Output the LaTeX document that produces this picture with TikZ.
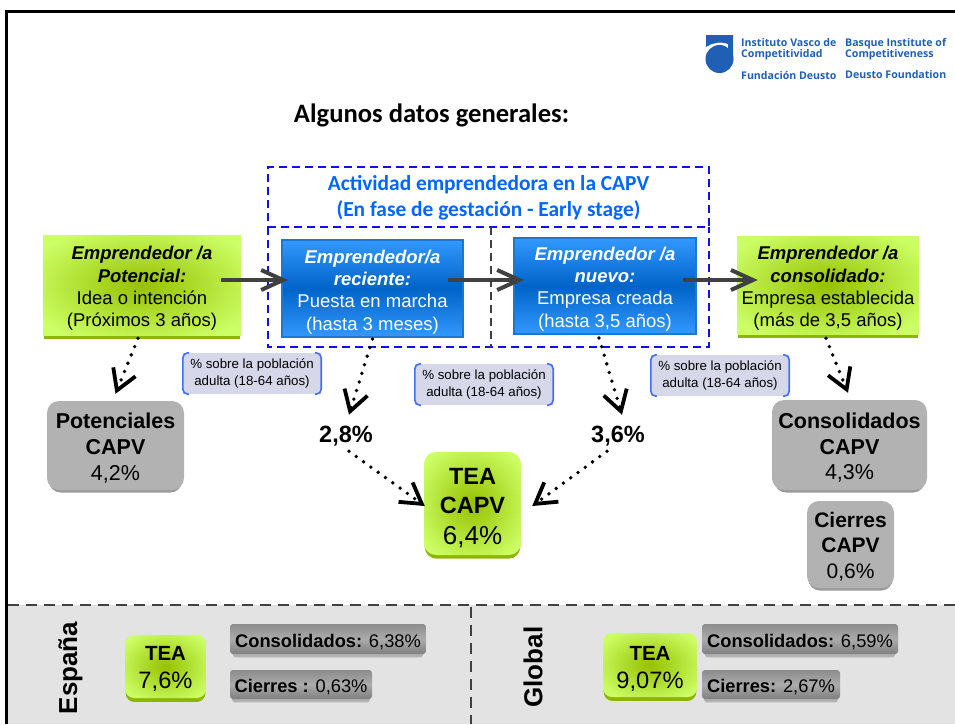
\documentclass[tikz,border=0pt]{standalone}
\usepackage{fontspec}
\setmainfont{Liberation Sans}
\newfontfamily\calfont{Carlito}
\newfontfamily\logofont{Open Sans}
\usetikzlibrary{arrows.meta,shadows}

\definecolor{limetop}{HTML}{CCFF66}
\definecolor{limemid}{HTML}{96C000}
\definecolor{limeedge}{HTML}{8DB600}
\definecolor{skyout}{HTML}{3399FF}
\definecolor{skymid}{HTML}{0063C8}
\definecolor{skyedge}{HTML}{1A78D0}
\definecolor{capvgray}{HTML}{B2B2B2}
\definecolor{capvedge}{HTML}{9A9A9A}
\definecolor{sidetop}{HTML}{8C8C8C}
\definecolor{sidemid}{HTML}{ABABAB}
\definecolor{sidelow}{HTML}{7F7F7F}
\definecolor{infofill}{HTML}{D6D8EA}
\definecolor{infoblue}{HTML}{3F6FFF}
\definecolor{dashblue}{HTML}{1010E8}
\definecolor{textblue}{HTML}{0066FF}
\definecolor{logoblue}{HTML}{1F5FB5}
\definecolor{panelgray}{HTML}{E3E3E3}
\definecolor{darkline}{HTML}{404040}

\pgfdeclareradialshading{limeglow}{\pgfpoint{0bp}{0bp}}{color(0bp)=(limemid); color(31bp)=(limetop); color(50bp)=(limetop)}

\newcommand{\sz}[2]{\fontsize{#1}{#2}\selectfont}
\newcommand{\bi}[1]{\textbf{\textit{#1}}}
\newcommand{\tl}[1]{\rule{0pt}{#1pt}}

\begin{document}
\begin{tikzpicture}[x=1pt,y=-1pt,
    every node/.style={inner sep=0pt,align=center},
    limebox/.style={shade,shading=limeglow,
      general shadow={fill=limeedge,shadow yshift=-4.5pt,shadow scale=.985}},
    skybox/.style={shade,top color=skyout,bottom color=skyout,middle color=skymid,
      draw=skyedge,line width=2pt,text=white,font=\sz{18.5}{22.3}},
    capvbox/.style={fill=capvgray,rounded corners=12pt,
      general shadow={fill=capvedge,shadow yshift=-4pt,shadow scale=.97}},
    sidebox/.style={shade,top color=sidetop,bottom color=sidelow,middle color=sidemid,
      rounded corners=3pt,font=\sz{18.3}{22},
      general shadow={fill=capvgray,shadow yshift=-4pt,shadow scale=.97}},
    infobox/.style={fill=infofill,minimum width=138pt,minimum height=41pt,font=\sz{13.3}{16.5}},
    bracket/.style={draw=infoblue,line width=1.6pt,rounded corners=5pt},
    capvarea/.style={draw=dashblue,line width=2pt,dash pattern=on 8pt off 5pt},
    flowline/.style={draw=darkline,line width=4pt,-{Straight Barb[length=22pt,width=20pt,line width=4pt]}},
    dotline/.style={draw=black,line width=3.8pt,line cap=round,dash pattern=on 0pt off 9pt,
      -{Straight Barb[length=20pt,width=24pt,line width=3.8pt]}},
    splitline/.style={draw=darkline,line width=2pt,dash pattern=on 11pt off 7pt}]
  \useasboundingbox (0,0) rectangle (955,724);

  % frame and lower panel
  \fill[panelgray] (8,605) rectangle (955,724);
  \draw[line width=3pt] (6.5,724) -- (6.5,11.5) -- (955,11.5);
  \draw[splitline] (8,605) -- (955,605);
  \draw[splitline] (471,607) -- (471,724);

  % logo
  \fill[logoblue] (706,35) -- (733,35) -- (733,60) -- (728,60) -- (728,44)
    .. controls (720,41) and (712,43) .. (706,47) -- cycle;
  \fill[logoblue] (719.5,59) circle (14);
  \node[anchor=west,text=logoblue,align=left,font=\logofont\bfseries\sz{10.6}{11.5}] (logoA) at (741,49) {Instituto Vasco de\\Competitividad};
  \node[anchor=west,text=logoblue,align=left,font=\logofont\bfseries\sz{10.6}{11.5}] (logoB) at (845,49) {Basque Institute of\\Competitiveness};
  \node[anchor=west,text=logoblue,font=\logofont\bfseries\sz{10.6}{11.5}] (logoC) at (741,75) {Fundación Deusto};
  \node[anchor=west,text=logoblue,font=\logofont\bfseries\sz{10.6}{11.5}] (logoD) at (845,75) {Deusto Foundation};

  \node[font=\calfont\bfseries\sz{26.6}{30}] (title) at (431.5,115) {Algunos datos generales:};

  % dashed areas
  \node[capvarea,minimum width=441pt,minimum height=60pt,text=textblue,font=\calfont\bfseries\sz{21.4}{26}] (capvtop) at (488.5,197)
    {\tl{17}Actividad emprendedora en la CAPV\\(En fase de gestación - Early stage)};
  \node[minimum width=441pt,minimum height=120pt] (capvlow) at (488.5,287) {};
  \draw[capvarea] (capvlow.north west) |- (capvlow.south east) -- (capvlow.north east);
  \draw[darkline,line width=1.5pt,dash pattern=on 8pt off 5pt] ([xshift=2.5pt]capvlow.north) -- ([xshift=2.5pt]capvlow.south);

  % upper row
  \node[limebox,minimum width=198pt,minimum height=100pt,font=\sz{18.5}{22.3}] (poten) at (142,285)
    {\tl{20.5}\bi{Emprendedor /a}\\\bi{Potencial:}\\Idea o intención\\(Próximos 3 años)};
  \node[skybox,minimum width=181pt,minimum height=97pt] (recien) at (372.5,288.5)
    {\tl{20.5}\bi{Emprendedor/a}\\\bi{reciente:}\\Puesta en marcha\\(hasta 3 meses)};
  \node[skybox,minimum width=182pt,minimum height=96pt] (nuevo) at (605,286)
    {\tl{19.5}\bi{Emprendedor /a}\\\bi{nuevo:}\\Empresa creada\\(hasta 3,5 años)};
  \node[limebox,minimum width=182pt,minimum height=98pt,font=\sz{18.5}{22.3}] (consol) at (828,285)
    {\tl{20.5}\bi{Emprendedor /a}\\\bi{consolidado:}\\Empresa establecida\\(más de 3,5 años)};

  % percentage notes
  \node[infobox] (infoA) at (252,373.5) {\% sobre la población\\adulta (18-64 años)};
  \node[infobox] (infoB) at (484,384.5) {\% sobre la población\\adulta (18-64 años)};
  \node[infobox] (infoC) at (720,375.5) {\% sobre la población\\adulta (18-64 años)};
  \foreach \n in {infoA,infoB,infoC} {
    \draw[bracket] ([xshift=6pt]\n.north west) -| (\n.west) |- ([xshift=6pt]\n.south west);
    \draw[bracket] ([xshift=-6pt]\n.north east) -| (\n.east) |- ([xshift=-6pt]\n.south east);
  }

  % results
  \node[capvbox,minimum width=137pt,minimum height=89pt,font=\sz{21.5}{25.7}] (potcapv) at (115.5,445.5)
    {\tl{20.7}\textbf{Potenciales}\\\textbf{CAPV}\\4,2\%};
  \node[capvbox,minimum width=155pt,minimum height=90pt,font=\sz{21.5}{25.5}] (concapv) at (849.5,445)
    {\tl{21.7}\textbf{Consolidados}\\\textbf{CAPV}\\4,3\%};
  \node[capvbox,minimum width=87pt,minimum height=87pt,font=\sz{21}{25.5}] (ciecapv) at (850.5,544.5)
    {\tl{19.3}\textbf{Cierres}\\\textbf{CAPV}\\0,6\%};
  \node[font=\bfseries\sz{23.5}{28}] (pctA) at (346,436) {2,8\%};
  \node[font=\bfseries\sz{23.5}{28}] (pctB) at (618,436) {3,6\%};
  \node[limebox,rounded corners=12pt,minimum width=97pt,minimum height=103pt,font=\sz{23.5}{28.5}] (teacapv) at (472.5,503.5)
    {\tl{26}\textbf{TEA}\\\textbf{CAPV}\\[3pt]{\sz{26}{30}6,4\%}};

  % lower panel
  \node[rotate=90,font=\bfseries\sz{26}{30}] (espana) at (70.5,668) {España};
  \node[rotate=90,font=\bfseries\sz{26}{30}] (global) at (533,667) {Global};
  \node[limebox,rounded corners=9pt,minimum width=81pt,minimum height=63pt,font=\sz{20.5}{28}] (teaes) at (165.5,666.5)
    {\tl{20}\textbf{TEA}\\{\sz{23.7}{28}7,6\%}};
  \node[limebox,rounded corners=9pt,minimum width=94pt,minimum height=64pt,font=\sz{20.5}{28}] (teagl) at (650,665)
    {\tl{23}\textbf{TEA}\\{\sz{23.7}{28}9,07\%}};
  \node[sidebox,minimum width=196pt,minimum height=30pt] (conses) at (328,639) {\tl{19.4}\textbf{Consolidados:} 6,38\%};
  \node[sidebox,minimum width=142pt,minimum height=29pt] (cies) at (301,684.5) {\tl{17.4}\textbf{Cierres :} 0,63\%};
  \node[sidebox,minimum width=196pt,minimum height=30pt] (congl) at (800,639) {\tl{19.4}\textbf{Consolidados:} 6,59\%};
  \node[sidebox,minimum width=138pt,minimum height=29pt] (ciegl) at (771,684.5) {\tl{17.4}\textbf{Cierres:} 2,67\%};

  % connectors
  \draw[flowline] ([shift={(-20pt,5pt)}]poten.east) -- ([shift={(7pt,8.5pt)}]recien.west);
  \draw[flowline] ([shift={(-16pt,8.5pt)}]recien.east) -- ([shift={(11pt,6pt)}]nuevo.west);
  \draw[flowline] ([shift={(-14pt,6pt)}]nuevo.east) -- ([shift={(21pt,5pt)}]consol.west);
  \draw[dotline] ([shift={(-4pt,-3pt)}]poten.south) -- ([yshift=7pt]potcapv.north);
  \draw[dotline] ([yshift=-1pt]recien.south) -- ([shift={(3pt,11pt)}]pctA.north);
  \draw[dotline] ([shift={(-6pt,-3pt)}]nuevo.south) -- ([shift={(4pt,11pt)}]pctB.north);
  \draw[dotline] ([shift={(-2pt,-4pt)}]consol.south) -- ([shift={(-1.5pt,7pt)}]concapv.north);
  \draw[dotline] ([shift={(3pt,-5pt)}]pctA.south) -- ([shift={(1pt,-2.5pt)}]teacapv.west);
  \draw[dotline] ([shift={(-11pt,-5pt)}]pctB.south) -- ([shift={(11pt,-2.5pt)}]teacapv.east);
\end{tikzpicture}
\end{document}
